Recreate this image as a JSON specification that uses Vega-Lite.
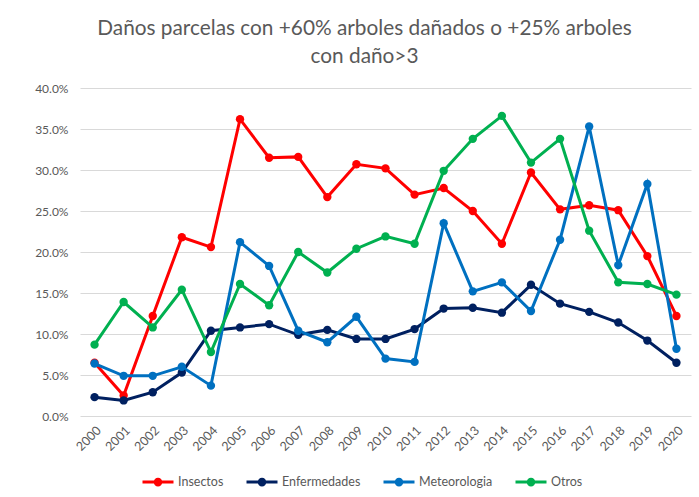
{
  "$schema": "https://vega.github.io/schema/vega-lite/v6.json",
  "width": 611,
  "height": 328,
  "autosize": {"type": "none"},
  "padding": {"left": 80, "top": 88, "right": 8, "bottom": 81},
  "background": "white",
  "title": {
    "text": ["Daños parcelas con +60% arboles dañados o +25% arboles", "con daño>3"],
    "font": "Lato",
    "fontSize": 20.8,
    "fontWeight": "normal",
    "color": "#595959",
    "anchor": "middle",
    "offset": 14,
    "dx": -21,
    "lineHeight": 28
  },
  "config": {
    "view": {"stroke": null},
    "font": "Lato"
  },
  "data": {
    "values": [
      {"year": "2000", "serie": "Insectos", "value": 0.065},
      {"year": "2001", "serie": "Insectos", "value": 0.025},
      {"year": "2002", "serie": "Insectos", "value": 0.122},
      {"year": "2003", "serie": "Insectos", "value": 0.218},
      {"year": "2004", "serie": "Insectos", "value": 0.206},
      {"year": "2005", "serie": "Insectos", "value": 0.362},
      {"year": "2006", "serie": "Insectos", "value": 0.315},
      {"year": "2007", "serie": "Insectos", "value": 0.316},
      {"year": "2008", "serie": "Insectos", "value": 0.267},
      {"year": "2009", "serie": "Insectos", "value": 0.307},
      {"year": "2010", "serie": "Insectos", "value": 0.302},
      {"year": "2011", "serie": "Insectos", "value": 0.270},
      {"year": "2012", "serie": "Insectos", "value": 0.278},
      {"year": "2013", "serie": "Insectos", "value": 0.250},
      {"year": "2014", "serie": "Insectos", "value": 0.210},
      {"year": "2015", "serie": "Insectos", "value": 0.297},
      {"year": "2016", "serie": "Insectos", "value": 0.252},
      {"year": "2017", "serie": "Insectos", "value": 0.257},
      {"year": "2018", "serie": "Insectos", "value": 0.251},
      {"year": "2019", "serie": "Insectos", "value": 0.195},
      {"year": "2020", "serie": "Insectos", "value": 0.122},
      {"year": "2000", "serie": "Enfermedades", "value": 0.023},
      {"year": "2001", "serie": "Enfermedades", "value": 0.019},
      {"year": "2002", "serie": "Enfermedades", "value": 0.029},
      {"year": "2003", "serie": "Enfermedades", "value": 0.053},
      {"year": "2004", "serie": "Enfermedades", "value": 0.104},
      {"year": "2005", "serie": "Enfermedades", "value": 0.108},
      {"year": "2006", "serie": "Enfermedades", "value": 0.112},
      {"year": "2007", "serie": "Enfermedades", "value": 0.099},
      {"year": "2008", "serie": "Enfermedades", "value": 0.105},
      {"year": "2009", "serie": "Enfermedades", "value": 0.094},
      {"year": "2010", "serie": "Enfermedades", "value": 0.094},
      {"year": "2011", "serie": "Enfermedades", "value": 0.106},
      {"year": "2012", "serie": "Enfermedades", "value": 0.131},
      {"year": "2013", "serie": "Enfermedades", "value": 0.132},
      {"year": "2014", "serie": "Enfermedades", "value": 0.126},
      {"year": "2015", "serie": "Enfermedades", "value": 0.160},
      {"year": "2016", "serie": "Enfermedades", "value": 0.137},
      {"year": "2017", "serie": "Enfermedades", "value": 0.127},
      {"year": "2018", "serie": "Enfermedades", "value": 0.114},
      {"year": "2019", "serie": "Enfermedades", "value": 0.092},
      {"year": "2020", "serie": "Enfermedades", "value": 0.065},
      {"year": "2000", "serie": "Meteorologia", "value": 0.064},
      {"year": "2001", "serie": "Meteorologia", "value": 0.049},
      {"year": "2002", "serie": "Meteorologia", "value": 0.049},
      {"year": "2003", "serie": "Meteorologia", "value": 0.060},
      {"year": "2004", "serie": "Meteorologia", "value": 0.037},
      {"year": "2005", "serie": "Meteorologia", "value": 0.212},
      {"year": "2006", "serie": "Meteorologia", "value": 0.183},
      {"year": "2007", "serie": "Meteorologia", "value": 0.104},
      {"year": "2008", "serie": "Meteorologia", "value": 0.090},
      {"year": "2009", "serie": "Meteorologia", "value": 0.121},
      {"year": "2010", "serie": "Meteorologia", "value": 0.070},
      {"year": "2011", "serie": "Meteorologia", "value": 0.066},
      {"year": "2012", "serie": "Meteorologia", "value": 0.235},
      {"year": "2013", "serie": "Meteorologia", "value": 0.152},
      {"year": "2014", "serie": "Meteorologia", "value": 0.163},
      {"year": "2015", "serie": "Meteorologia", "value": 0.128},
      {"year": "2016", "serie": "Meteorologia", "value": 0.215},
      {"year": "2017", "serie": "Meteorologia", "value": 0.353},
      {"year": "2018", "serie": "Meteorologia", "value": 0.184},
      {"year": "2019", "serie": "Meteorologia", "value": 0.283},
      {"year": "2020", "serie": "Meteorologia", "value": 0.082},
      {"year": "2000", "serie": "Otros", "value": 0.087},
      {"year": "2001", "serie": "Otros", "value": 0.139},
      {"year": "2002", "serie": "Otros", "value": 0.108},
      {"year": "2003", "serie": "Otros", "value": 0.154},
      {"year": "2004", "serie": "Otros", "value": 0.078},
      {"year": "2005", "serie": "Otros", "value": 0.161},
      {"year": "2006", "serie": "Otros", "value": 0.135},
      {"year": "2007", "serie": "Otros", "value": 0.200},
      {"year": "2008", "serie": "Otros", "value": 0.175},
      {"year": "2009", "serie": "Otros", "value": 0.204},
      {"year": "2010", "serie": "Otros", "value": 0.219},
      {"year": "2011", "serie": "Otros", "value": 0.210},
      {"year": "2012", "serie": "Otros", "value": 0.299},
      {"year": "2013", "serie": "Otros", "value": 0.338},
      {"year": "2014", "serie": "Otros", "value": 0.366},
      {"year": "2015", "serie": "Otros", "value": 0.309},
      {"year": "2016", "serie": "Otros", "value": 0.338},
      {"year": "2017", "serie": "Otros", "value": 0.226},
      {"year": "2018", "serie": "Otros", "value": 0.163},
      {"year": "2019", "serie": "Otros", "value": 0.161},
      {"year": "2020", "serie": "Otros", "value": 0.148}
    ]
  },
  "mark": {
    "type": "line",
    "strokeWidth": 3,
    "point": {"filled": true, "size": 70}
  },
  "encoding": {
    "x": {
      "field": "year",
      "type": "ordinal",
      "scale": {"type": "point", "padding": 0.5},
      "axis": {
        "title": null,
        "labelAngle": -45,
        "labelAlign": "right",
        "labelBaseline": "middle",
        "labelPadding": 12,
        "labelOffset": 4,
        "labelFontSize": 12.5,
        "labelColor": "#595959",
        "ticks": false,
        "domain": false,
        "grid": false
      }
    },
    "y": {
      "field": "value",
      "type": "quantitative",
      "scale": {"domain": [0, 0.4], "nice": false},
      "axis": {
        "title": null,
        "format": ".1%",
        "values": [0, 0.05, 0.1, 0.15, 0.2, 0.25, 0.3, 0.35, 0.4],
        "labelFontSize": 12,
        "labelColor": "#595959",
        "labelPadding": 12,
        "ticks": false,
        "domain": false,
        "gridColor": "#d9d9d9",
        "gridWidth": 1
      }
    },
    "color": {
      "field": "serie",
      "type": "nominal",
      "scale": {
        "domain": ["Insectos", "Enfermedades", "Meteorologia", "Otros"],
        "range": ["#ff0000", "#002060", "#0070c0", "#00b050"]
      },
      "legend": {
        "title": null,
        "orient": "none",
        "direction": "horizontal",
        "columns": 4,
        "legendX": 61,
        "legendY": 377,
        "symbolType": "M-1,0H1M-0.18,0A0.18,0.18,0,1,1,0.18,0A0.18,0.18,0,1,1,-0.18,0Z",
        "symbolSize": 961,
        "symbolStrokeWidth": 3,
        "labelFontSize": 12.5,
        "labelColor": "#595959",
        "labelOffset": 3,
        "columnPadding": 16,
        "encode": {
          "symbols": {"update": {"fill": {"scale": "color", "field": "value"}, "opacity": {"value": 1}}}
        }
      }
    }
  }
}
